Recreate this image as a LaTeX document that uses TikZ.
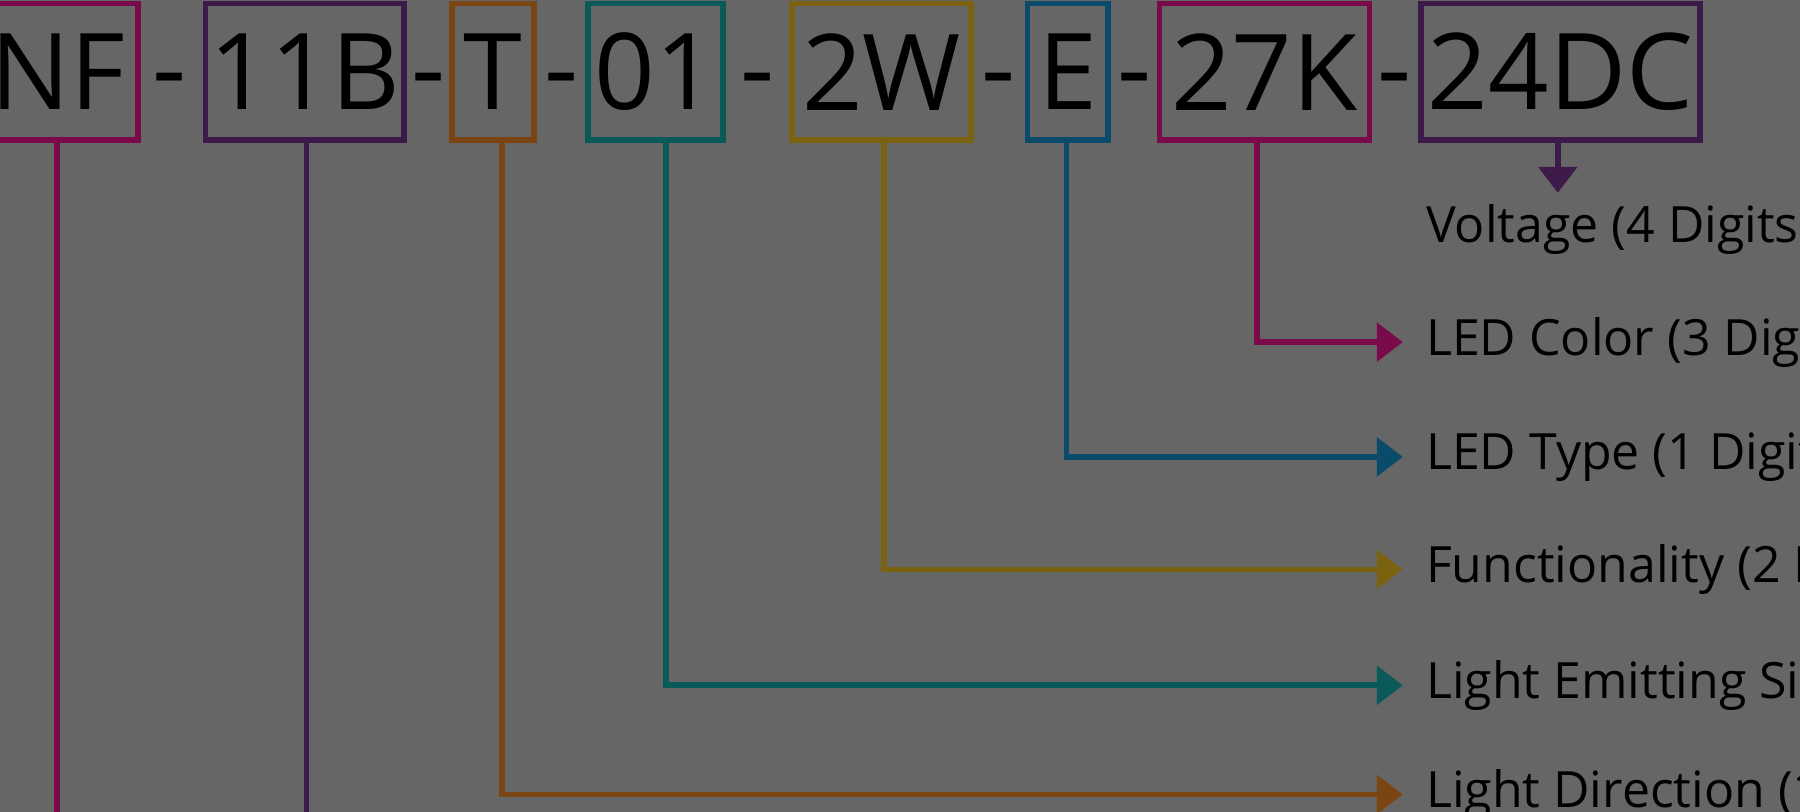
\documentclass[tikz,border=0pt]{standalone}
\usepackage{fontspec}
\setmainfont{Open Sans}
\usetikzlibrary{arrows.meta}
\definecolor{cmag}{HTML}{7A0A4A}
\definecolor{cpur}{HTML}{3E1A4A}
\definecolor{cora}{HTML}{7A4510}
\definecolor{ctea}{HTML}{0A5A5A}
\definecolor{cgol}{HTML}{7A6210}
\definecolor{cblu}{HTML}{0A4A6A}
\begin{document}
\begin{tikzpicture}[x=0.574pt,y=-0.574pt,
  code/.style={draw=#1,line width=2.9pt,inner sep=0pt,font=\fontsize{53}{53}\selectfont,text=black},
  conn/.style={draw=#1,line width=2.9pt,-{Triangle[width=19pt,length=13pt,fill=#1]}},
  plain/.style={draw=#1,line width=2.9pt},
  lab/.style={anchor=west,font=\fontsize{25}{25}\selectfont,text=black,inner sep=0pt},
  sepsym/.style={font=\fontsize{53}{53}\selectfont,text=black,inner sep=0pt}]
\fill[black!60] (0,0) rectangle (1568,707);
\useasboundingbox (0,0) rectangle (1568,707);
\clip (0,0) rectangle (1568,707);
\node[code=cmag,minimum width=140*0.574pt,minimum height=119*0.574pt] (nf) at (50,62.5) {NF};
\node[code=cpur,minimum width=173*0.574pt,minimum height=119*0.574pt] (b11) at (265.5,62.5) {11B};
\node[code=cora,minimum width=71*0.574pt,minimum height=119*0.574pt] (t) at (429.5,62.5) {T};
\node[code=ctea,minimum width=118*0.574pt,minimum height=119*0.574pt] (o1) at (571,62.5) {01};
\node[code=cgol,minimum width=156*0.574pt,minimum height=119*0.574pt] (w2) at (768,62.5) {2W};
\node[code=cblu,minimum width=70*0.574pt,minimum height=119*0.574pt] (e) at (930,62.5) {E};
\node[code=cmag,minimum width=183*0.574pt,minimum height=119*0.574pt] (k27) at (1101.5,62.5) {27K};
\node[code=cpur,minimum width=243*0.574pt,minimum height=119*0.574pt] (dc) at (1359.5,62.5) {24DC};
\node[sepsym] (d1) at (148,78) {-};
\node[sepsym] (d2) at (373,78) {-};
\node[sepsym] (d3) at (489,78) {-};
\node[sepsym] (d4) at (660,78) {-};
\node[sepsym] (d5) at (870,78) {-};
\node[sepsym] (d6) at (988,78) {-};
\node[sepsym] (d7) at (1215,78) {-};
\node[lab] (lv) at (1242,200) {Voltage (4 Digits)};
\node[lab] (lc) at (1242,298) {LED Color (3 Digits)};
\node[lab] (lt) at (1242,398) {LED Type (1 Digit)};
\node[lab] (lf) at (1242,496) {Functionality (2 Digits)};
\node[lab] (ls) at (1242,597) {Light Emitting Side (2 Digits)};
\node[lab] (ld) at (1242,692) {Light Direction (1 Digit)};
\coordinate (nfe) at (50,730);
\coordinate (b11e) at (267,730);
\coordinate (vt) at (1357,168);
\coordinate (ac) at (1222,298);
\coordinate (at) at (1222,398);
\coordinate (af) at (1222,496);
\coordinate (as) at (1222,597);
\coordinate (ad) at (1222,692);
\draw[plain=cmag] (nf.south -| 50,0) -- (nfe);
\draw[plain=cpur] (b11.south -| 267,0) -- (b11e);
\draw[conn=cpur] (dc.south -| vt) -- (vt);
\draw[conn=cmag] (k27.south -| 1095,0) |- (ac);
\draw[conn=cblu] (e.south -| 929,0) |- (at);
\draw[conn=cgol] (w2.south -| 770,0) |- (af);
\draw[conn=ctea] (o1.south -| 580,0) |- (as);
\draw[conn=cora] (t.south -| 437,0) |- (ad);
\end{tikzpicture}
\end{document}
